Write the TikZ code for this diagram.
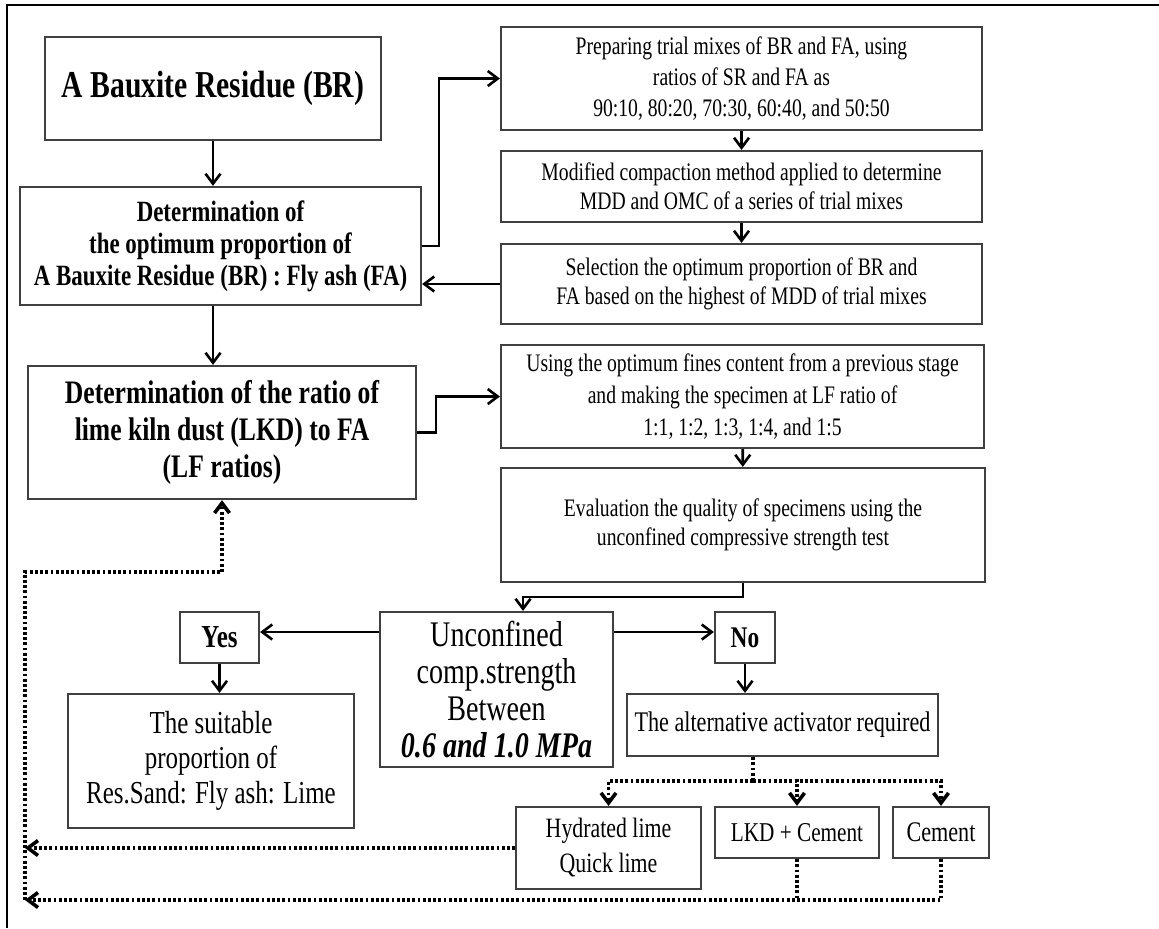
\documentclass[tikz,border=0pt]{standalone}
\usepackage{fontspec}
\setmainfont[FakeStretch=0.78]{Liberation Serif}
\usetikzlibrary{arrows.meta}

\begin{document}
\begin{tikzpicture}[x=0.5pt,y=-0.5pt,
    box/.style={draw=black!75,line width=1.1pt,inner sep=0pt,align=center},
    arr/.style={line width=1.3pt,-{Straight Barb[length=5pt,width=7.5pt]}},
    dots/.style={line width=1.8pt,dash pattern=on 1.4pt off 1.2pt},
    dotarr/.style={dots,-{Straight Barb[length=5pt,width=7.5pt]}}]
  \useasboundingbox (0,0) rectangle (1159,928);
  \draw[line width=1.4pt] (7,928) |- (1159,5);

  % left column
  \node[box,minimum width=168pt,minimum height=51.5pt,font=\fontsize{19}{22}\selectfont\bfseries] (br) at (213,88.5) {A Bauxite Residue (BR)};
  \node[box,minimum width=200.5pt,minimum height=59pt,font=\fontsize{14.7}{16}\selectfont\bfseries] (detopt) at (220.5,246)
    {Determination of\\the optimum proportion of\\A Bauxite Residue (BR) : Fly ash (FA)};
  \node[box,minimum width=194pt,minimum height=66.5pt,font=\fontsize{16.4}{18.5}\selectfont\bfseries] (detlf) at (222,432.5)
    {Determination of the ratio of\\lime kiln dust (LKD) to FA\\(LF ratios)};

  % right column
  \node[box,minimum width=240.5pt,minimum height=51.5pt,font=\fontsize{12.6}{15.5}\selectfont] (prep) at (741.5,78.5)
    {Preparing trial mixes of BR and FA, using\\ratios of SR and FA as\\90:10, 80:20, 70:30, 60:40, and 50:50};
  \node[box,minimum width=240.5pt,minimum height=35.5pt,font=\fontsize{12.6}{14.5}\selectfont] (modif) at (741.5,186.5)
    {Modified compaction method applied to determine\\MDD and OMC of a series of trial mixes};
  \node[box,minimum width=240.5pt,minimum height=40pt,font=\fontsize{12.6}{14.5}\selectfont] (select) at (741.5,284)
    {Selection the optimum proportion of BR and\\FA based on the highest of MDD of trial mixes};
  \node[box,minimum width=241.5pt,minimum height=51.5pt,font=\fontsize{12.6}{16}\selectfont] (using) at (742.5,396.5)
    {Using the optimum fines content from a previous stage\\and making the specimen at LF ratio of\\1:1, 1:2, 1:3, 1:4, and 1:5};
  \node[box,minimum width=242pt,minimum height=57pt,font=\fontsize{12.6}{14.5}\selectfont] (evalu) at (743,525)
    {Evaluation the quality of specimens using the\\unconfined compressive strength test};

  % decision
  \node[box,minimum width=116.5pt,minimum height=77.5pt,font=\fontsize{18}{18.5}\selectfont] (ucs) at (496.5,689.5)
    {Unconfined\\comp.strength\\Between\\\textbf{\textit{0.6 and 1.0 MPa}}};
  \node[box,minimum width=39.5pt,minimum height=25.5pt,font=\fontsize{16}{18}\selectfont\bfseries] (yes) at (219.5,637.5) {Yes};
  \node[box,minimum width=30pt,minimum height=25.5pt,font=\fontsize{15}{18}\selectfont\bfseries] (no) at (745,637.5) {No};
  \node[box,minimum width=143pt,minimum height=67pt,font=\fontsize{16}{17.5}\selectfont] (suit) at (211,761)
    {The suitable\\proportion of\\Res.Sand: Fly ash: Lime};
  \node[box,minimum width=155.5pt,minimum height=31pt,font=\fontsize{14.2}{17}\selectfont] (alt) at (782.5,725)
    {The alternative activator required};
  \node[box,minimum width=92.5pt,minimum height=41pt,font=\fontsize{14}{17.5}\selectfont] (hyd) at (608.5,848)
    {Hydrated lime\\Quick lime};
  \node[box,minimum width=82pt,minimum height=25.5pt,font=\fontsize{13.6}{17}\selectfont] (lkdc) at (797,832.5) {LKD + Cement};
  \node[box,minimum width=48pt,minimum height=25.5pt,font=\fontsize{14.2}{17}\selectfont] (cem) at (941,832.5) {Cement};

  \coordinate (bus) at (753,781);
  \coordinate (retlow) at (25,900);
  \coordinate (rettop) at (25,572);

  % solid connectors
  \draw[arr] (br.south) -- (br.south |- detopt.north);
  \draw[arr] (detopt.east) -- ++(17,0) |- (prep.west);
  \draw[arr] (prep) -- (modif);
  \draw[arr] (modif) -- (select);
  \draw[arr] (select.west) -- (select.west -| detopt.east);
  \draw[arr] (detopt.south -| br.south) -- (br.south |- detlf.north);
  \draw[arr] (detlf.east) -- ++(19,0) |- (using.west);
  \draw[arr] (using) -- (evalu);
  \draw[arr] (evalu.south) -- ++(0,14) -| ([xshift=13.25pt]ucs.north);
  \draw[arr] ([yshift=2.75pt]ucs.west |- yes.east) -- ([yshift=2.75pt]yes.east);
  \draw[arr] ([yshift=2.75pt]ucs.east |- no.west) -- ([yshift=2.75pt]no.west);
  \draw[arr] (yes.south) -- (yes.south |- suit.north);
  \draw[arr] (no.south) -- (no.south |- alt.north);

  % dotted connectors
  \draw[dots] ([xshift=-14.75pt]alt.south) -- (bus);
  \draw[dotarr] (bus) -| (hyd.north);
  \draw[dotarr] (bus) -| (lkdc.north);
  \draw[dotarr] (bus) -| (cem.north);
  \draw[dotarr] (hyd.west) -- (hyd.west -| retlow);
  \draw[dots] (lkdc.south) -- (lkdc.south |- retlow);
  \draw[dotarr] (cem.south) |- (retlow);
  \draw[dotarr] (retlow) -- (rettop) -| (detlf.south);
\end{tikzpicture}
\end{document}
